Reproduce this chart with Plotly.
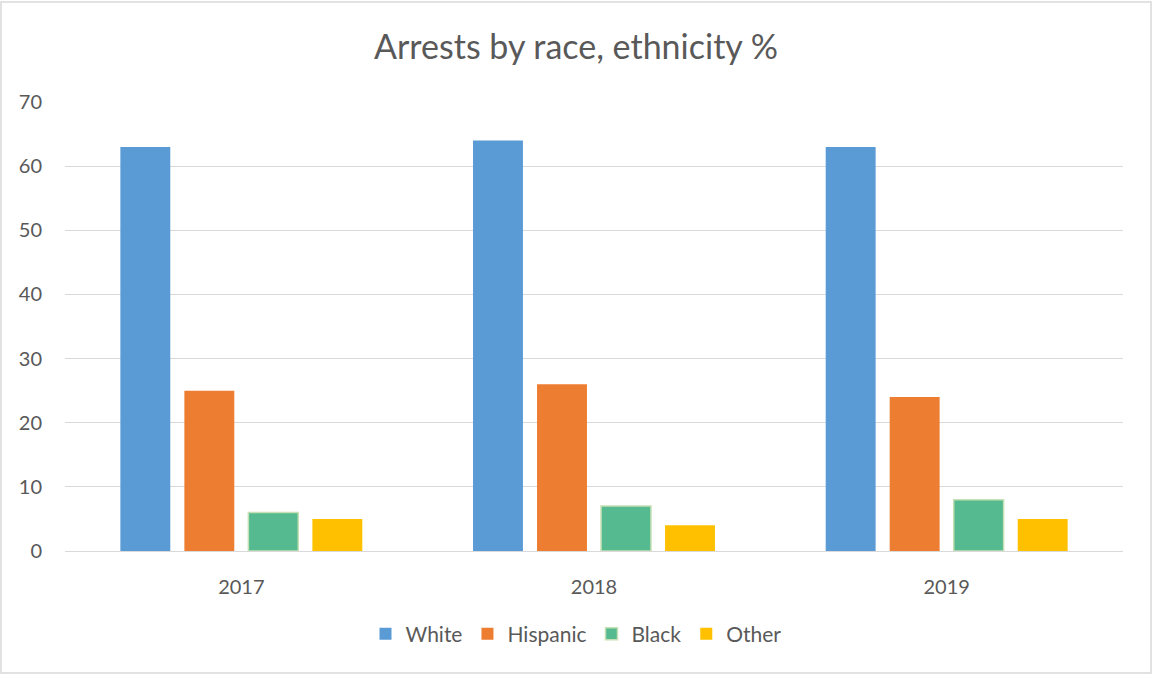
import plotly.graph_objects as go

years = ["2017", "2018", "2019"]
white = [63, 64, 63]
hispanic = [25, 26, 24]
black = [6, 7, 8]
other = [5, 4, 5]

W, H = 1152, 675
L, R, T, B = 65, 29, 102, 124
pw, ph = W - L - R, H - T - B

fig = go.Figure()
fig.add_bar(x=years, y=white, name="White", marker=dict(color="#5B9BD5", line=dict(width=0)))
fig.add_bar(x=years, y=hispanic, name="Hispanic", marker=dict(color="#ED7D31", line=dict(width=0)))
fig.add_bar(x=years, y=black, name="Black", marker=dict(color="#55BA8F", line=dict(color="#C5E0B4", width=1.5)))
fig.add_bar(x=years, y=other, name="Other", marker=dict(color="#FFC000", line=dict(width=0)))

font = "Lato"
fig.update_layout(
    width=W, height=H,
    margin=dict(l=L, r=R, t=T, b=B),
    paper_bgcolor="white", plot_bgcolor="white",
    barmode="group", bargap=0.274, bargroupgap=0.22,
    title=dict(text="Arrests by race, ethnicity %", x=0.5, xanchor="center",
               y=1 - 47 / H, yanchor="middle", yref="container",
               font=dict(family=font, size=34, color="#595959")),
    font=dict(family=font, size=20, color="#595959"),
    showlegend=True,
    legend=dict(orientation="h", x=0.5, xanchor="center", xref="container",
                y=1 - 634 / H, yref="container", yanchor="middle",
                font=dict(family=font, size=21, color="#595959"), itemwidth=30,
                traceorder="normal"),
    yaxis=dict(range=[0, 70], dtick=10, gridcolor="#D9D9D9", gridwidth=1,
               zeroline=False, showline=False, ticks="", ticklabelstandoff=22,
               tickfont=dict(family=font, size=20, color="#595959")),
    xaxis=dict(showline=True, linecolor="#D9D9D9", linewidth=1, ticks="",
               ticklabelstandoff=18, tickfont=dict(family=font, size=20, color="#595959")),
    shapes=[dict(type="rect", xref="paper", yref="paper",
                 x0=(1 - L) / pw, x1=(1151 - L) / pw,
                 y0=-(673 - (H - B)) / ph, y1=1 + (T - 2) / ph,
                 line=dict(color="#D9D9D9", width=1.5))],
)

fig.write_html("out.html")
